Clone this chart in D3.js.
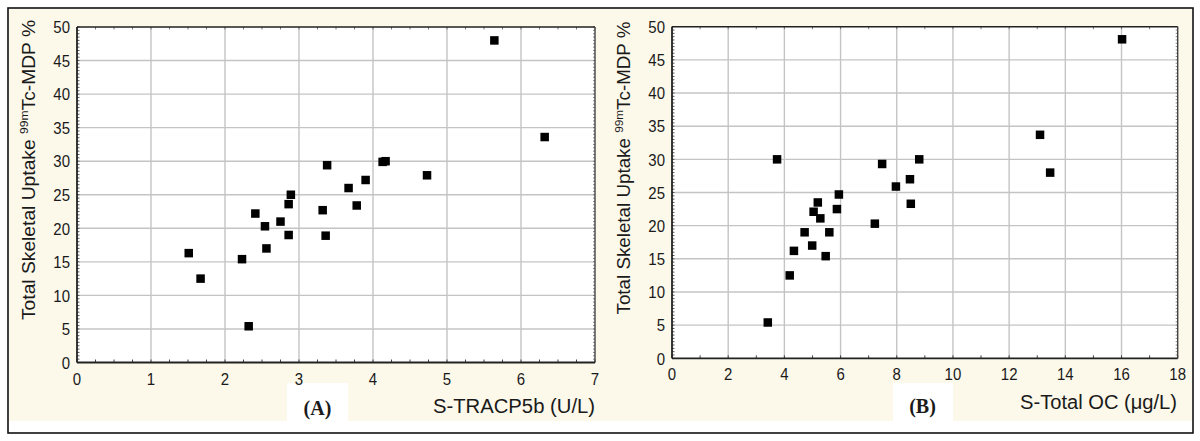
<!DOCTYPE html>
<html>
<head>
<meta charset="utf-8">
<script src="https://cdn.jsdelivr.net/npm/d3@7"></script>
<style>
  html, body { margin: 0; padding: 0; background: #ffffff; }
  svg { display: block; }
  text { font-family: "Liberation Sans", Arial, sans-serif; fill: #1a1a1a; }
</style>
</head>
<body>
<svg id="chart" width="1200" height="441"></svg>
<script>
// ---- Data ----
// Panel A: S-TRACP5b (U/L) vs Total Skeletal Uptake %
const tracpX = [1.51, 1.67, 2.23, 2.32, 2.54, 2.56, 2.75, 2.86, 2.41, 2.89, 2.86,
                3.38, 3.32, 3.36, 3.67, 3.78, 3.90, 4.13, 4.17, 4.73, 5.64, 6.32];
const tracpY = [16.3, 12.5, 15.4, 5.4, 20.3, 17.0, 21.0, 19.0, 22.2, 25.0, 23.6,
                29.4, 22.7, 18.9, 26.0, 23.4, 27.2, 29.9, 30.0, 27.9, 48.0, 33.6];
// Panel B: S-Total OC (µg/L) vs Total Skeletal Uptake %
const ocX = [3.41, 3.74, 4.19, 4.34, 4.72, 4.99, 5.04, 5.19, 5.28, 5.47, 5.60,
             5.87, 5.94, 7.22, 7.48, 7.97, 8.47, 8.50, 8.80, 13.10, 13.46, 16.02];
const ocY = [5.4, 30.0, 12.5, 16.2, 19.0, 17.0, 22.1, 23.5, 21.1, 15.4, 19.0,
             22.5, 24.7, 20.3, 29.3, 25.9, 27.0, 23.3, 30.0, 33.7, 28.0, 48.1];

// Tick labels
const xTicksA = [0, 1, 2, 3, 4, 5, 6, 7];
const xTicksB = [0, 2, 4, 6, 8, 10, 12, 14, 16, 18];
const yTicks  = [0, 5, 10, 15, 20, 25, 30, 35, 40, 45, 50];

// Texts
const yTitleMain = "Total Skeletal Uptake ";
const yTitleSup = "99m";
const yTitleEnd = "Tc-MDP %";
const xTitleA = "S-TRACP5b (U/L)";
const xTitleB = "S-Total OC (\u03bcg/L)";
const panelLabelA = "(A)";
const panelLabelB = "(B)";

// ---- Drawing ----
const svg = d3.select("#chart");
const cream = "#fcf8ea";

// background
svg.append("rect").attr("x", 9).attr("y", 9).attr("width", 1183).attr("height", 412).attr("fill", cream);
svg.append("rect").attr("x", 287).attr("y", 383).attr("width", 61).attr("height", 38).attr("fill", "#fff");
svg.append("rect").attr("x", 893).attr("y", 383).attr("width", 60).attr("height", 38).attr("fill", "#fff");
svg.append("rect").attr("x", 8).attr("y", 8).attr("width", 1185).attr("height", 425)
   .attr("fill", "none").attr("stroke", "#111").attr("stroke-width", 1.6);

const panels = [
  { xs: tracpX, ys: tracpY, xDom: [0, 7], xRange: [77, 595], yRange: [362.5, 27],
    xTicks: xTicksA, xMinor: 0.25, xTitle: xTitleA, xTitleRight: 595, xTitleBase: 413, xTitleLen: 162,
    label: panelLabelA, labelX: 317.5, labelBase: 415,
    yTitleX: 35, yTitleCY: 170, yTitleLen: 300, tickLabelOff: 22.5 },
  { xs: ocX, ys: ocY, xDom: [0, 18], xRange: [672, 1177.7], yRange: [358.3, 26.7],
    xTicks: xTicksB, xMinor: 1, xTitle: xTitleB, xTitleRight: 1177, xTitleBase: 408.5, xTitleLen: 157,
    label: panelLabelB, labelX: 922.5, labelBase: 413,
    yTitleX: 630, yTitleCY: 168, yTitleLen: 293, tickLabelOff: 22 }
];

panels.forEach(p => {
  const x = d3.scaleLinear().domain(p.xDom).range(p.xRange);
  const y = d3.scaleLinear().domain([0, 50]).range(p.yRange);
  const g = svg.append("g");
  const [x0, x1] = p.xRange;
  const [yb, yt] = p.yRange;

  g.append("rect").attr("x", x0).attr("y", yt).attr("width", x1 - x0).attr("height", yb - yt).attr("fill", "#fff");

  // grid
  g.selectAll(".gx").data(p.xTicks.slice(1, -1)).join("line")
    .attr("x1", d => x(d)).attr("x2", d => x(d)).attr("y1", yt).attr("y2", yb)
    .attr("stroke", "#c4c4c4").attr("stroke-width", 1.4);
  g.selectAll(".gy").data(yTicks.slice(1, -1)).join("line")
    .attr("y1", d => y(d)).attr("y2", d => y(d)).attr("x1", x0).attr("x2", x1)
    .attr("stroke", "#c4c4c4").attr("stroke-width", 1.4);

  // minor ticks (inward on all four sides)
  const xMinor = d3.range(p.xDom[0], p.xDom[1] + 1e-9, p.xMinor);
  const yMinor = d3.range(0, 50 + 1e-9, 0.5);
  const tk = "#444";
  g.selectAll(".mxb").data(xMinor).join("line")
    .attr("x1", d => x(d)).attr("x2", d => x(d)).attr("y1", yb).attr("y2", yb - 3)
    .attr("stroke", tk).attr("stroke-width", 1);
  g.selectAll(".mxt").data(xMinor).join("line")
    .attr("x1", d => x(d)).attr("x2", d => x(d)).attr("y1", yt).attr("y2", yt + 2.5)
    .attr("stroke", "#777").attr("stroke-width", 1);
  g.selectAll(".myl").data(yMinor).join("line")
    .attr("y1", d => y(d)).attr("y2", d => y(d)).attr("x1", x0).attr("x2", x0 + 2.5)
    .attr("stroke", tk).attr("stroke-width", 0.9);
  g.selectAll(".myr").data(yMinor).join("line")
    .attr("y1", d => y(d)).attr("y2", d => y(d)).attr("x1", x1).attr("x2", x1 - 2)
    .attr("stroke", "#777").attr("stroke-width", 0.9);

  // frame
  g.append("line").attr("x1", x0).attr("x2", x1).attr("y1", yt).attr("y2", yt).attr("stroke", "#222").attr("stroke-width", 1.6);
  g.append("line").attr("x1", x1).attr("x2", x1).attr("y1", yt).attr("y2", yb).attr("stroke", "#444").attr("stroke-width", 1.4);
  g.append("line").attr("x1", x0).attr("x2", x0).attr("y1", yt).attr("y2", yb).attr("stroke", "#222").attr("stroke-width", 1.8);
  g.append("line").attr("x1", x0).attr("x2", x1).attr("y1", yb).attr("y2", yb).attr("stroke", "#222").attr("stroke-width", 1.8);

  // tick labels (slightly tall, like the reference)
  g.selectAll(".xl").data(p.xTicks).join("text")
    .attr("transform", d => `translate(${x(d)},${yb + p.tickLabelOff}) scale(1,1.15)`)
    .attr("text-anchor", "middle").attr("font-size", 15).text(d => d);
  g.selectAll(".yl").data(yTicks).join("text")
    .attr("transform", d => `translate(${x0 - 7},${y(d)}) scale(1,1.15)`)
    .attr("dy", "0.36em")
    .attr("text-anchor", "end").attr("font-size", 15).text(d => d);

  // points
  const pts = p.xs.map((v, i) => [v, p.ys[i]]);
  const s = 8.5;
  g.selectAll(".pt").data(pts).join("rect")
    .attr("x", d => x(d[0]) - s / 2).attr("y", d => y(d[1]) - s / 2)
    .attr("width", s).attr("height", s).attr("fill", "#000");

  // x title
  g.append("text")
    .attr("transform", `translate(${p.xTitleRight},${p.xTitleBase}) scale(1,1.08)`)
    .attr("text-anchor", "end").attr("font-size", 19)
    .attr("textLength", p.xTitleLen).attr("lengthAdjust", "spacingAndGlyphs")
    .text(p.xTitle);

  // panel label
  g.append("text").attr("x", p.labelX).attr("y", p.labelBase)
    .attr("text-anchor", "middle").attr("font-size", 20).attr("font-weight", "bold")
    .style("font-family", "'Liberation Serif', 'Times New Roman', serif")
    .text(p.label);

  // y title
  const yt2 = g.append("text")
    .attr("transform", `translate(${p.yTitleX},${p.yTitleCY}) rotate(-90)`)
    .attr("text-anchor", "middle").attr("font-size", 17.5)
    .attr("textLength", p.yTitleLen).attr("lengthAdjust", "spacingAndGlyphs");
  yt2.append("tspan").text(yTitleMain);
  yt2.append("tspan").attr("font-size", 11).attr("dy", -7).text(yTitleSup);
  yt2.append("tspan").attr("dy", 7).text(yTitleEnd);
});
</script>
</body>
</html>
